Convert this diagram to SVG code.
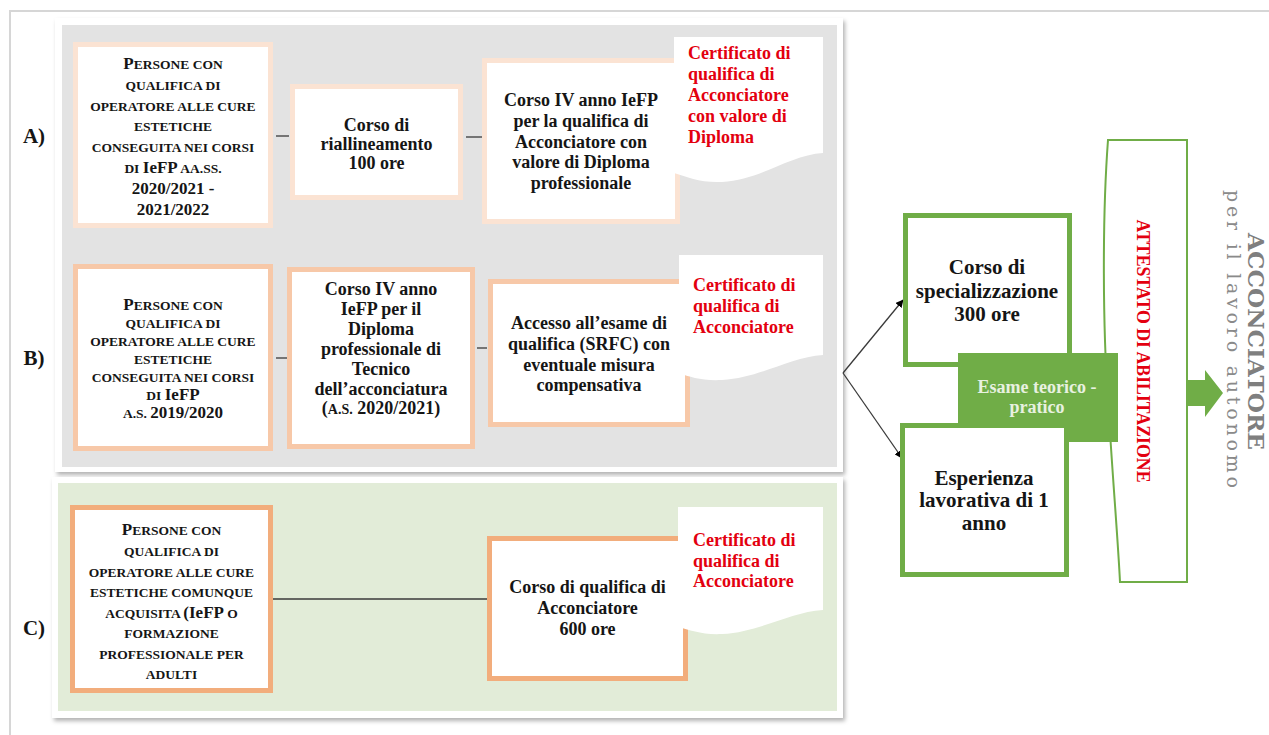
<svg xmlns="http://www.w3.org/2000/svg" width="1269" height="735" viewBox="0 0 1269 735">
<style>
.t{font-family:"Liberation Serif","Times New Roman",serif;font-weight:bold;font-size:18px;text-anchor:middle;fill:#151515}
.s{font-family:"Liberation Serif","Times New Roman",serif;font-weight:bold;font-size:13.5px;text-anchor:middle;fill:#151515}
.b{font-size:17px}
.r{font-family:"Liberation Serif","Times New Roman",serif;font-weight:bold;font-size:18px;fill:#e3000f}
.lbl{font-family:"Liberation Serif","Times New Roman",serif;font-weight:bold;font-size:21px;text-anchor:middle;fill:#151515}
.boxA{fill:#fff;stroke:#fbe3d3;stroke-width:5}
.boxB{fill:#fff;stroke:#f7c8a8;stroke-width:5}
.boxC{fill:#fff;stroke:#f2ad7c;stroke-width:5}
.boxG{fill:#fff;stroke:#70ad47;stroke-width:5}
.cert{fill:#fff}
.con{stroke:#3a3a3a;stroke-width:1.3;fill:none}
.g{font-size:21px}
</style>
<defs>
<filter id="sh" x="-5%" y="-5%" width="110%" height="115%">
<feDropShadow dx="2" dy="3" stdDeviation="2" flood-color="#000" flood-opacity="0.3"/>
</filter>
<marker id="ah" viewBox="0 0 10 10" refX="9" refY="5" markerWidth="8" markerHeight="8" markerUnits="userSpaceOnUse" orient="auto">
<path d="M0,0 L10,5 L0,10 Z" fill="#000"/>
</marker>
</defs>
<rect width="1269" height="735" fill="#fff"/>
<line x1="9" y1="11" x2="1269" y2="11" stroke="#d6d6d6" stroke-width="2"/>
<line x1="10" y1="11" x2="10" y2="735" stroke="#d6d6d6" stroke-width="2"/>

<g id="panels">
<rect x="55" y="18" width="788" height="454" fill="#fff" filter="url(#sh)"/>
<rect x="62" y="25" width="775" height="442" fill="#e3e3e3"/>
<rect x="52" y="477" width="791" height="241" fill="#fff" filter="url(#sh)"/>
<rect x="58" y="483" width="779" height="228" fill="#e2ecd8"/>
</g>

<g id="labels">
<text class="lbl" x="34" y="143">A)</text>
<text class="lbl" x="34" y="365">B)</text>
<text class="lbl" x="34" y="635">C)</text>
</g>

<g id="connectors">
<line class="con" x1="276" y1="136" x2="289" y2="136"/>
<line class="con" x1="466" y1="137" x2="482" y2="137"/>
<line class="con" x1="276" y1="358" x2="287" y2="358"/>
<line class="con" x1="477" y1="348" x2="487" y2="348"/>
<line class="con" x1="273" y1="599" x2="487" y2="599"/>
<line class="con" x1="843" y1="373" x2="903" y2="300" stroke="#000" marker-end="url(#ah)"/>
<line class="con" x1="843" y1="373" x2="902" y2="458" stroke="#000" marker-end="url(#ah)"/>
</g>

<g id="nodeA1">
<rect class="boxA" x="75.5" y="44.5" width="195" height="181"/>
<text class="s" x="173" y="69"><tspan class="b">P</tspan>ERSONE CON</text>
<text class="s" x="173" y="90">QUALIFICA DI</text>
<text class="s" x="173" y="111">OPERATORE ALLE CURE</text>
<text class="s" x="173" y="131">ESTETICHE</text>
<text class="s" x="173" y="152">CONSEGUITA NEI CORSI</text>
<text class="s" x="173" y="173">DI <tspan class="b">IeFP</tspan> AA.SS.</text>
<text class="s" x="173" y="194"><tspan class="b">2020/2021 -</tspan></text>
<text class="s" x="173" y="215"><tspan class="b">2021/2022</tspan></text>
</g>

<g id="nodeA2">
<rect class="boxA" x="292.5" y="86.5" width="168" height="111"/>
<text class="t" x="376.5" y="131">Corso di</text>
<text class="t" x="376.5" y="150">riallineamento</text>
<text class="t" x="376.5" y="169">100 ore</text>
</g>

<g id="nodeA3">
<rect class="boxA" x="484.5" y="60.5" width="193" height="161"/>
<text class="t" x="581" y="106">Corso IV anno IeFP</text>
<text class="t" x="581" y="127">per la qualifica di</text>
<text class="t" x="581" y="148">Acconciatore con</text>
<text class="t" x="581" y="168">valore di Diploma</text>
<text class="t" x="581" y="189">professionale</text>
</g>

<g id="certA">
<path class="cert" d="M674,37 H823 V153 C790,155 760,180 722,182 C700,183 688,177 674,173 Z"/>
<text class="r" x="688" y="59">Certificato di</text>
<text class="r" x="688" y="80">qualifica di</text>
<text class="r" x="688" y="101">Acconciatore</text>
<text class="r" x="688" y="122">con valore di</text>
<text class="r" x="688" y="143">Diploma</text>
</g>

<g id="nodeB1">
<rect class="boxB" x="75.5" y="266.5" width="195" height="182"/>
<text class="s" x="173" y="310"><tspan class="b">P</tspan>ERSONE CON</text>
<text class="s" x="173" y="328">QUALIFICA DI</text>
<text class="s" x="173" y="346">OPERATORE ALLE CURE</text>
<text class="s" x="173" y="364">ESTETICHE</text>
<text class="s" x="173" y="382">CONSEGUITA NEI CORSI</text>
<text class="s" x="173" y="400">DI <tspan class="b">IeFP</tspan></text>
<text class="s" x="173" y="418">A.S. <tspan class="b">2019/2020</tspan></text>
</g>

<g id="nodeB2">
<rect class="boxB" x="289.5" y="269.5" width="183" height="177"/>
<text class="t" x="381" y="295">Corso IV anno</text>
<text class="t" x="381" y="315">IeFP per il</text>
<text class="t" x="381" y="335">Diploma</text>
<text class="t" x="381" y="355">professionale di</text>
<text class="t" x="381" y="375">Tecnico</text>
<text class="t" x="381" y="395">dell’acconciatura</text>
<text class="t" x="381" y="414">(<tspan font-size="14px">A.S.</tspan> 2020/2021)</text>
</g>

<g id="nodeB3">
<rect class="boxB" x="490.5" y="281.5" width="197" height="143"/>
<text class="t" x="589" y="329">Accesso all’esame di</text>
<text class="t" x="589" y="350">qualifica (SRFC) con</text>
<text class="t" x="589" y="371">eventuale misura</text>
<text class="t" x="589" y="391">compensativa</text>
</g>

<g id="certB">
<path class="cert" d="M679,255 H823 V355 C790,357 760,378 722,380 C702,381 690,377 679,373 Z"/>
<text class="r" x="693" y="291">Certificato di</text>
<text class="r" x="693" y="312">qualifica di</text>
<text class="r" x="693" y="333">Acconciatore</text>
</g>

<g id="nodeC1">
<rect class="boxC" x="72.5" y="507.5" width="198" height="183"/>
<text class="s" x="171.5" y="535"><tspan class="b">P</tspan>ERSONE CON</text>
<text class="s" x="171.5" y="556">QUALIFICA DI</text>
<text class="s" x="171.5" y="577">OPERATORE ALLE CURE</text>
<text class="s" x="171.5" y="597">ESTETICHE COMUNQUE</text>
<text class="s" x="171.5" y="618">ACQUISITA <tspan class="b">(IeFP</tspan> O</text>
<text class="s" x="171.5" y="638">FORMAZIONE</text>
<text class="s" x="171.5" y="659">PROFESSIONALE PER</text>
<text class="s" x="171.5" y="679">ADULTI</text>
</g>

<g id="nodeC2">
<rect class="boxC" x="489.5" y="538.5" width="196" height="140"/>
<text class="t" x="587.5" y="593">Corso di qualifica di</text>
<text class="t" x="587.5" y="614">Acconciatore</text>
<text class="t" x="587.5" y="635">600 ore</text>
</g>

<g id="certC">
<path class="cert" d="M678,507 H823 V610 C790,612 760,632 722,634 C702,635 690,630 678,627 Z"/>
<text class="r" x="693" y="546">Certificato di</text>
<text class="r" x="693" y="567">qualifica di</text>
<text class="r" x="693" y="587">Acconciatore</text>
</g>

<g id="attestato">
<path d="M1108,140 H1187 V582 H1120 C1118,540 1112,470 1108,400 C1103,330 1102,220 1108,140 Z" fill="#fff" stroke="#70ad47" stroke-width="2"/>
<text class="r" x="1137" y="351" text-anchor="middle" font-size="17px" textLength="263" lengthAdjust="spacingAndGlyphs" transform="rotate(90 1137 351)">ATTESTATO DI ABILITAZIONE</text>
</g>

<g id="nodeSpec">
<rect class="boxG" x="905.5" y="215.5" width="164" height="149"/>
<text class="t g" x="987" y="274">Corso di</text>
<text class="t g" x="987" y="298">specializzazione</text>
<text class="t g" x="987" y="321">300 ore</text>
</g>

<g id="nodeEsame">
<rect x="958" y="353" width="160" height="89" fill="#70ad47"/>
<text class="t" x="1037" y="393" style="fill:#e8f1e0">Esame teorico -</text>
<text class="t" x="1037" y="413" style="fill:#e8f1e0">pratico</text>
</g>

<g id="nodeEsperienza">
<rect class="boxG" x="902.5" y="425.5" width="164" height="149"/>
<text class="t g" x="984" y="485">Esperienza</text>
<text class="t g" x="984" y="507">lavorativa di 1</text>
<text class="t g" x="984" y="530">anno</text>
</g>

<g id="bigArrow">
<polygon points="1188,380 1205,380 1205,370 1223,393 1205,417 1205,406 1188,406" fill="#70ad47"/>
</g>

<g id="result">
<text x="1248" y="341.5" text-anchor="middle" font-family="DejaVu Serif, serif" font-weight="bold" font-size="22px" fill="#7f7f7f" textLength="217" lengthAdjust="spacingAndGlyphs" transform="rotate(90 1248 341.5)">ACCONCIATORE</text>
<text x="1227" y="339" text-anchor="middle" font-family="DejaVu Serif, serif" font-size="19px" fill="#8a8a8a" textLength="298" lengthAdjust="spacing" transform="rotate(90 1227 339)">per il lavoro autonomo</text>
</g>
</svg>
